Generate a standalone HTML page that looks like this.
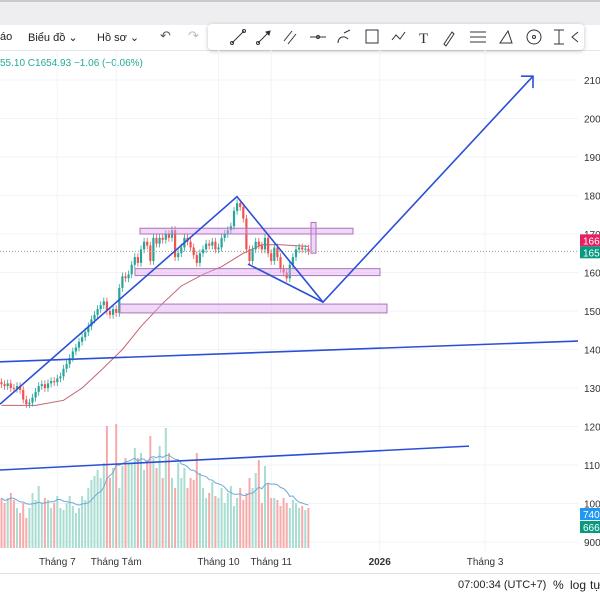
<!DOCTYPE html>
<html><head><meta charset="utf-8">
<style>
body{margin:0;width:600px;height:600px;overflow:hidden;background:#fff;font-family:"Liberation Sans","Noto Sans CJK SC",sans-serif;}
#wrap{position:relative;width:600px;height:600px;}
.top{position:absolute;left:0;top:0;width:600px;height:25px;background:#eeeef1;border-top:2px solid #c9c9cf;box-sizing:border-box}
.bar{position:absolute;left:0;top:25px;width:600px;height:25px;background:#fff;border-bottom:1px solid #e6e6ea;font-size:11px;color:#222}
.bar span{position:absolute;top:6px}
.tools{position:absolute;left:208px;top:24px;width:376px;height:26px;background:#fff;border-radius:4px;box-shadow:0 1px 4px rgba(0,0,0,.25)}
.bot{position:absolute;left:0;top:573px;width:600px;height:27px;background:#fff;border-top:1px solid #e2e2e6;font-size:11px;color:#222}
.bot span{position:absolute;top:5px}
</style></head><body>
<div id="wrap">
<div class="top"></div>
<div class="bar">
<span style="left:0">áo</span>
<span style="left:28px">Biểu đồ ⌄</span>
<span style="left:97px">Hồ sơ ⌄</span>
<span style="left:160px;color:#555;font-size:13px;top:3px">↶</span>
<span style="left:188px;color:#bbb;font-size:13px;top:3px">↷</span>
</div>
<div class="tools">
<svg width="376" height="26" style="position:absolute;left:0;top:0" stroke="#333" fill="none" stroke-width="1">
<g><line x1="24" y1="19" x2="36" y2="7"/><circle cx="24" cy="19" r="1.5"/><circle cx="36" cy="7" r="1.5"/></g>
<g><line x1="50" y1="19" x2="62" y2="7"/><circle cx="50" cy="19" r="1.5"/><path d="M58 8l4-1-1 4z" fill="#333"/></g>
<g><line x1="76" y1="17" x2="84" y2="7"/><line x1="80" y1="20" x2="88" y2="10"/></g>
<g><line x1="102" y1="13" x2="118" y2="13"/><circle cx="110" cy="13" r="1.5"/></g>
<g><path d="M130 19c0-6 6-8 10-4M136 9l6 -3"/></g>
<g><rect x="158" y="6" width="12" height="13"/></g>
<g><path d="M184 16l4-5 4 4 5-7"/></g>
<text x="211" y="19" font-size="15" fill="#333" stroke="none" font-family="Liberation Serif">T</text>
<g><path d="M236 20l8-12 2 2-8 12z"/></g>
<g><line x1="262" y1="8" x2="278" y2="8"/><line x1="262" y1="13" x2="278" y2="13"/><line x1="262" y1="18" x2="278" y2="18"/></g>
<g><path d="M292 19l8-12 4 12z"/></g>
<g><circle cx="326" cy="13" r="7"/><circle cx="326" cy="13" r="1.5"/></g>
<g><path d="M346 6h10M351 6v14M346 20h10"/></g>
<g><path d="M370 8l-6 5 6 5"/></g>
</svg></div>
<div style="position:absolute;left:0;top:58px;font-size:10px;color:#22ab94">55.10 C1654.93 −1.06 (−0.06%)</div>
<svg id="chart" width="600" height="573" style="position:absolute;left:0;top:0"></svg>
<div class="bot">
<span style="left:458px">07:00:34 (UTC+7)</span>
<span style="left:553px;font-size:12px;top:4px">%</span>
<span style="left:570px;font-size:12px;top:4px">log</span>
<span style="left:590px;font-size:12px;top:4px">tự</span>
</div>
</div>
<script>
const closes=[1310,1305,1312,1300,1298,1305,1295,1270,1258,1262,
1275,1290,1305,1310,1300,1312,1318,1315,1325,1330,
1350,1362,1378,1395,1405,1420,1432,1445,1460,1478,
1490,1505,1515,1525,1500,1490,1505,1495,1560,1590,
1585,1595,1620,1640,1625,1660,1680,1670,1630,1690,
1675,1690,1685,1700,1690,1710,1640,1650,1665,1690,
1680,1665,1645,1625,1650,1660,1675,1670,1680,1660,
1665,1690,1700,1710,1720,1760,1780,1770,1740,1660,
1630,1660,1680,1670,1660,1690,1650,1630,1665,1640,
1610,1600,1585,1620,1640,1660,1665,1660,1662,1655];
const firstOpen=1315;
const volumes=[50,45,50,55,48,40,35,45,30,40,
55,48,62,45,50,48,40,45,52,40,
38,45,52,42,35,40,52,48,60,68,
72,78,70,85,122,70,80,124,60,82,
90,85,85,100,90,95,78,88,112,90,
80,102,70,120,95,70,60,85,70,80,
60,70,68,95,75,60,50,55,66,52,
50,60,45,55,62,42,50,60,48,55,
70,60,75,88,45,82,65,50,50,48,
42,50,45,40,48,45,40,42,38,40];
const maIdx=[0,11,20,26,32,39,45,52,58,65,71,78,84,90,99];
const maVal=[1255,1255,1268,1300,1345,1400,1460,1520,1565,1595,1615,1650,1672,1672,1668];
const priceTicks=[2100,2000,1900,1800,1700,1600,1500,1400,1300,1200,1100,1000,900];
const timeIdx=[18,37,70,87,122,156];
const timeLabels=["Tháng 7","Tháng Tám","Tháng 10","Tháng 11","2026","Tháng 3"];
const lastPrice=1655;
const drawings={zigzag:[[0,1258],[237,1797],[323,1523],[533,2110]],wedge:[[248,1622],[323,1523]],
long1:[[0,1368],[578,1422]],long2:[[0,1087],[469,1149]]};
const zones=[[140,353,1715,1700],[135,380,1610,1592],[120,387,1518,1495],[311,316,1730,1650]];

const S=document.getElementById('chart');const NS='http://www.w3.org/2000/svg';
const y=v=>80+(2100-v)*0.385;
const x=i=>1.5+i*3.1;
const vb=548,vh=v=>v*1.0;
function el(t,a,p){const e=document.createElementNS(NS,t);for(const k in a)e.setAttribute(k,a[k]);(p||S).appendChild(e);return e;}
priceTicks.forEach(v=>{const g=el('line',{x1:0,x2:578,y1:y(v),y2:y(v),stroke:'#f1f3f8'});


const t=el('text',{x:584,y:y(v)+4,'font-size':10,fill:'#333'});t.textContent=String(v).slice(0,3);

});
timeIdx.forEach((ti,k)=>{const g=el('line',{x1:x(ti),x2:x(ti),y1:50,y2:552,stroke:'#f1f3f8'});


const t=el('text',{x:x(ti),y:565,'font-size':10,fill:'#333','text-anchor':'middle','font-weight':timeLabels[k]==='2026'?'bold':'normal'});t.textContent=timeLabels[k];

});
const up=closes.map((c,i)=>c>=(i?closes[i-1]:firstOpen));
volumes.forEach((v,i)=>{const r=el('rect',{x:x(i)-1,y:vb-vh(v),width:2,height:vh(v),fill:up[i]?'#a9ddd2':'#f7aaa9'});

});
let vp='';volumes.forEach((v,i)=>{const w=volumes.slice(Math.max(0,i-9),i+1);const m=w.reduce((a,b)=>a+b,0)/w.length;vp+=(i?'L':'M')+x(i)+' '+(vb-vh(m));});
const vm=el('path',{d:vp,stroke:'#6ea9d8',fill:'none','stroke-width':1});


let mp='';maIdx.forEach((ii,k)=>mp+=(k?'L':'M')+x(ii)+' '+y(maVal[k]));
const ma=el('path',{d:mp,stroke:'#c2626e',fill:'none','stroke-width':1});


closes.forEach((c,i)=>{const o=i?closes[i-1]:firstOpen;const col=up[i]?'#26a69a':'#ef5350';
const hi=Math.max(o,c)+10,lo=Math.min(o,c)-10;
const g=el('g',{});

el('line',{x1:x(i),x2:x(i),y1:y(hi),y2:y(lo),stroke:col,'stroke-width':0.8},g);
el('rect',{x:x(i)-1.1,y:y(Math.max(o,c)),width:2.2,height:Math.max(1,Math.abs(y(o)-y(c))),fill:col},g);});
const lp=el('line',{x1:0,x2:578,y1:y(lastPrice),y2:y(lastPrice),stroke:'#999','stroke-dasharray':'1 2'});


zones.forEach(z=>{const r=el('rect',{x:z[0],y:y(z[2]),width:z[1]-z[0],height:y(z[3])-y(z[2]),fill:'rgba(220,170,235,0.45)',stroke:'#b070c0','stroke-width':1});

});
for(const k in drawings){const p=drawings[k].map((q,j)=>(j?'L':'M')+q[0]+' '+y(q[1])).join('');
const d=el('path',{d:p,stroke:'#2b4fd6',fill:'none','stroke-width':1.6});

}
const a=drawings.zigzag[3];
const ah=el('path',{d:`M${a[0]-12} ${y(a[1])} L${a[0]} ${y(a[1])} L${a[0]} ${y(a[1])+12}`,stroke:'#2b4fd6',fill:'none','stroke-width':1.6});


function badge(yy,txt,col,nm){const g=el('g',{});

el('rect',{x:580,y:yy-6,width:20,height:12,fill:col},g);const t=el('text',{x:583,y:yy+4,'font-size':10,fill:'#fff'},g);t.textContent=txt;}
badge(y(1668)-6,'166','#e91e63','high-price-badge');
badge(y(lastPrice)+1,'165','#089981','last-price-badge');
badge(514,'740','#2196f3','volume-ma-badge');
badge(527,'666','#089981','volume-badge');
</script>
</body></html>
